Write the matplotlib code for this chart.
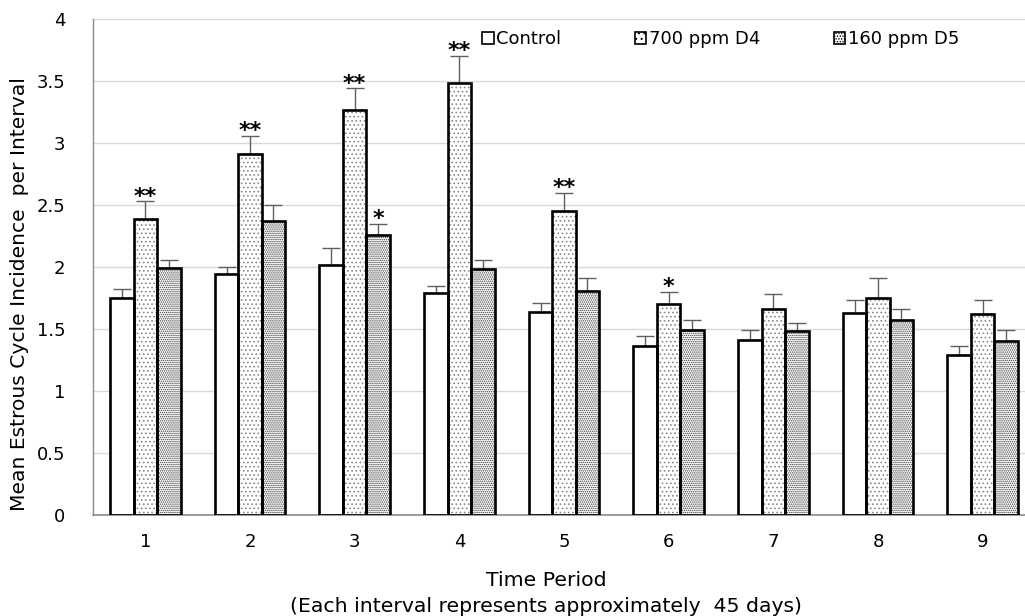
import numpy as np
import matplotlib
matplotlib.use("Agg")
import matplotlib.pyplot as plt
from matplotlib.patches import Patch
from matplotlib.ticker import FuncFormatter

plt.rcParams['font.family'] = ['DejaVu Sans']
plt.rcParams['hatch.linewidth'] = 0.7

# Data
periods = ['1', '2', '3', '4', '5', '6', '7', '8', '9']
series_names = ['Control', '700 ppm D4', '160 ppm D5']

control = [1.75, 1.94, 2.02, 1.79, 1.64, 1.36, 1.41, 1.63, 1.29]
d4 = [2.39, 2.91, 3.27, 3.48, 2.45, 1.70, 1.66, 1.75, 1.62]
d5 = [1.99, 2.37, 2.26, 1.98, 1.81, 1.49, 1.48, 1.57, 1.40]

control_err = [0.07, 0.06, 0.13, 0.06, 0.07, 0.08, 0.08, 0.10, 0.07]
d4_err = [0.14, 0.15, 0.17, 0.22, 0.15, 0.10, 0.12, 0.16, 0.11]
d5_err = [0.07, 0.13, 0.09, 0.08, 0.10, 0.08, 0.07, 0.09, 0.09]

# significance marks: (period index, series index, label)
marks = [(0, 1, '**'), (1, 1, '**'), (2, 1, '**'), (3, 1, '**'),
         (4, 1, '**'), (2, 2, '*'), (5, 1, '*')]


def main():
    fig = plt.figure(figsize=(10.25, 6.16), dpi=100)
    ax = fig.add_axes([93 / 1025, 101 / 616, 942 / 1025, 496 / 616])

    x = np.arange(1, len(periods) + 1)
    w = 0.224
    values = [control, d4, d5]
    errors = [control_err, d4_err, d5_err]
    hatches = [None, '....', '........']
    hatch_colors = ['white', '#888888', '#3c3c3c']

    for i, (vals, errs) in enumerate(zip(values, errors)):
        xs = x + (i - 1) * w
        # hatched fill
        if hatches[i]:
            ax.bar(xs, vals, width=w, color='white', hatch=hatches[i],
                   edgecolor=hatch_colors[i], linewidth=0, zorder=2)
        else:
            ax.bar(xs, vals, width=w, color='white', linewidth=0, zorder=2)
        # black outline
        ax.bar(xs, vals, width=w, fill=False, edgecolor='black',
               linewidth=1.9, zorder=3)
        ax.errorbar(xs, vals, yerr=[np.zeros(len(vals)), errs], fmt='none',
                    ecolor='#606060', elinewidth=1.0, capsize=6.5,
                    capthick=1.0, zorder=1)

    for pi, si, lab in marks:
        top = values[si][pi] + errors[si][pi]
        ax.text(x[pi] + (si - 1) * w, top - 0.01, lab, ha='center',
                va='baseline', fontsize=16, fontweight='bold')

    ax.set_xlim(0.5, len(periods) + 0.5)
    ax.set_ylim(0, 4)
    ax.set_yticks(np.arange(0, 4.01, 0.5))
    ax.yaxis.set_major_formatter(FuncFormatter(lambda v, p: f'{v:g}'))
    ax.set_xticks(x)
    ax.set_xticklabels(periods)
    ax.tick_params(axis='both', length=0, labelsize=13)
    ax.tick_params(axis='y', pad=20)
    ax.tick_params(axis='x', pad=13)
    ax.grid(axis='y', color='#d9d9d9', linewidth=1.0, zorder=0)
    ax.set_axisbelow(True)

    for s in ['top', 'right']:
        ax.spines[s].set_visible(False)
    ax.spines['left'].set_color('#8c8c8c')
    ax.spines['bottom'].set_color('#8c8c8c')
    ax.spines['left'].set_linewidth(1.0)
    ax.spines['bottom'].set_linewidth(1.2)

    fig.text(20 / 1025, 1 - 294 / 616,
             'Mean Estrous Cycle Incidence  per Interval', rotation=90,
             ha='center', va='center', fontsize=14.6)
    fig.text(546 / 1025, 1 - 580 / 616, 'Time Period', ha='center',
             va='center', fontsize=14.7)
    fig.text(546 / 1025, 1 - 606 / 616,
             '(Each interval represents approximately  45 days)',
             ha='center', va='center', fontsize=14.7)

    handles = [Patch(facecolor='white', edgecolor='black', linewidth=1.2),
               Patch(facecolor='white', edgecolor='black', hatch='...',
                     linewidth=1.2),
               Patch(facecolor='white', edgecolor='black', hatch='......',
                     linewidth=1.2)]
    fig.legend(handles, series_names, loc='center left',
               bbox_to_anchor=(482 / 1025, 1 - 39 / 616), ncol=3,
               frameon=False, fontsize=13, handlelength=0.65,
               handleheight=0.65, handletextpad=0.15, columnspacing=4.05,
               borderpad=0, borderaxespad=0)

    fig.savefig('out.png', dpi=100)


if __name__ == '__main__':
    main()
